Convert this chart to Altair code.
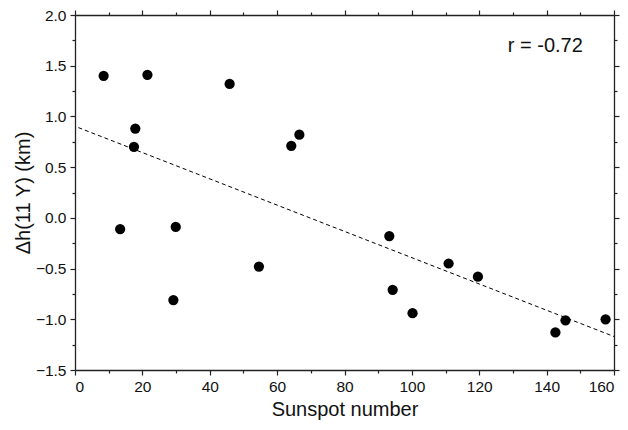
import altair as alt
import pandas as pd

# Data
sunspot = [8.5, 21.5, 45.9, 17.9, 17.5, 64.2, 66.6, 13.4, 29.9, 29.2, 54.6,
           93.3, 94.3, 100.2, 110.9, 119.6, 142.6, 145.6, 157.5]
dh = [1.40, 1.41, 1.32, 0.88, 0.70, 0.71, 0.82, -0.11, -0.09, -0.81, -0.48,
      -0.18, -0.71, -0.94, -0.45, -0.58, -1.13, -1.01, -1.00]
fit_x = [1, 160]
fit_y = [0.89, -1.17]
x_ticks = list(range(0, 161, 10))
y_ticks = [-1.5 + 0.25 * i for i in range(15)]
annot_x = [139.6]
annot_y = [1.69]
annot_text = ["r = -0.72"]

pts = pd.DataFrame({"x": sunspot, "y": dh})
fit = pd.DataFrame({"x": fit_x, "y": fit_y})
ann = pd.DataFrame({"x": annot_x, "y": annot_y, "t": annot_text})

FONT = "Liberation Sans"
xscale = alt.Scale(domain=[0, 160], nice=False, zero=False)
yscale = alt.Scale(domain=[-1.5, 2.0], nice=False, zero=False)

common = dict(
    grid=False, domainColor="#222", domainWidth=1.3, tickColor="#222", tickWidth=1.2,
    labelFont=FONT, labelFontSize=15.5, labelColor="#111", titleFont=FONT,
    titleFontSize=20, titleFontWeight="normal", titleColor="#111",
)
xtick_size = {"condition": {"test": "datum.value % 20 == 0", "value": 5}, "value": 3}
ytick_size = {"condition": {"test": "abs(round(datum.value * 4)) % 2 == 0", "value": 5}, "value": 3}

x_bottom = alt.Axis(orient="bottom", values=x_ticks, tickSize=xtick_size,
                    labelExpr="datum.value % 20 == 0 ? datum.label : ''",
                    labelPadding=4, title="Sunspot number", titlePadding=5, **common)
y_left = alt.Axis(orient="left", values=y_ticks, tickSize=ytick_size, format=".1f",
                  labelExpr="abs(round(datum.value * 4)) % 2 == 0 ? datum.label : ''",
                  labelPadding=4, title="\u0394h(11 Y) (km)", titlePadding=2, **common)
x_top = alt.Axis(orient="top", values=x_ticks, tickSize=xtick_size, labels=False,
                 title=None, **common)
y_right = alt.Axis(orient="right", values=y_ticks, tickSize=ytick_size, labels=False,
                   title=None, **common)

points = alt.Chart(pts).mark_circle(size=105, color="black", opacity=1).encode(
    x=alt.X("x:Q", scale=xscale, axis=x_bottom),
    y=alt.Y("y:Q", scale=yscale, axis=y_left),
)

line = alt.Chart(fit).mark_line(color="black", strokeWidth=1, strokeDash=[4, 3]).encode(
    x=alt.X("x:Q", scale=xscale, axis=x_top),
    y=alt.Y("y:Q", scale=yscale, axis=y_right),
)

text = alt.Chart(ann).mark_text(font=FONT, fontSize=20, color="#111").encode(
    x=alt.X("x:Q", scale=xscale, axis=None),
    y=alt.Y("y:Q", scale=yscale, axis=None),
    text="t:N",
)

chart = alt.layer(points, line, text).resolve_axis(
    x="independent", y="independent"
).properties(
    width=539, height=355,
    autosize=alt.AutoSizeParams(type="none"),
    padding={"left": 67, "top": 7, "right": 6, "bottom": 60},
).configure_view(stroke=None).configure(background="white")

chart.save("out.html", embed_options={"renderer": "svg", "actions": False})
